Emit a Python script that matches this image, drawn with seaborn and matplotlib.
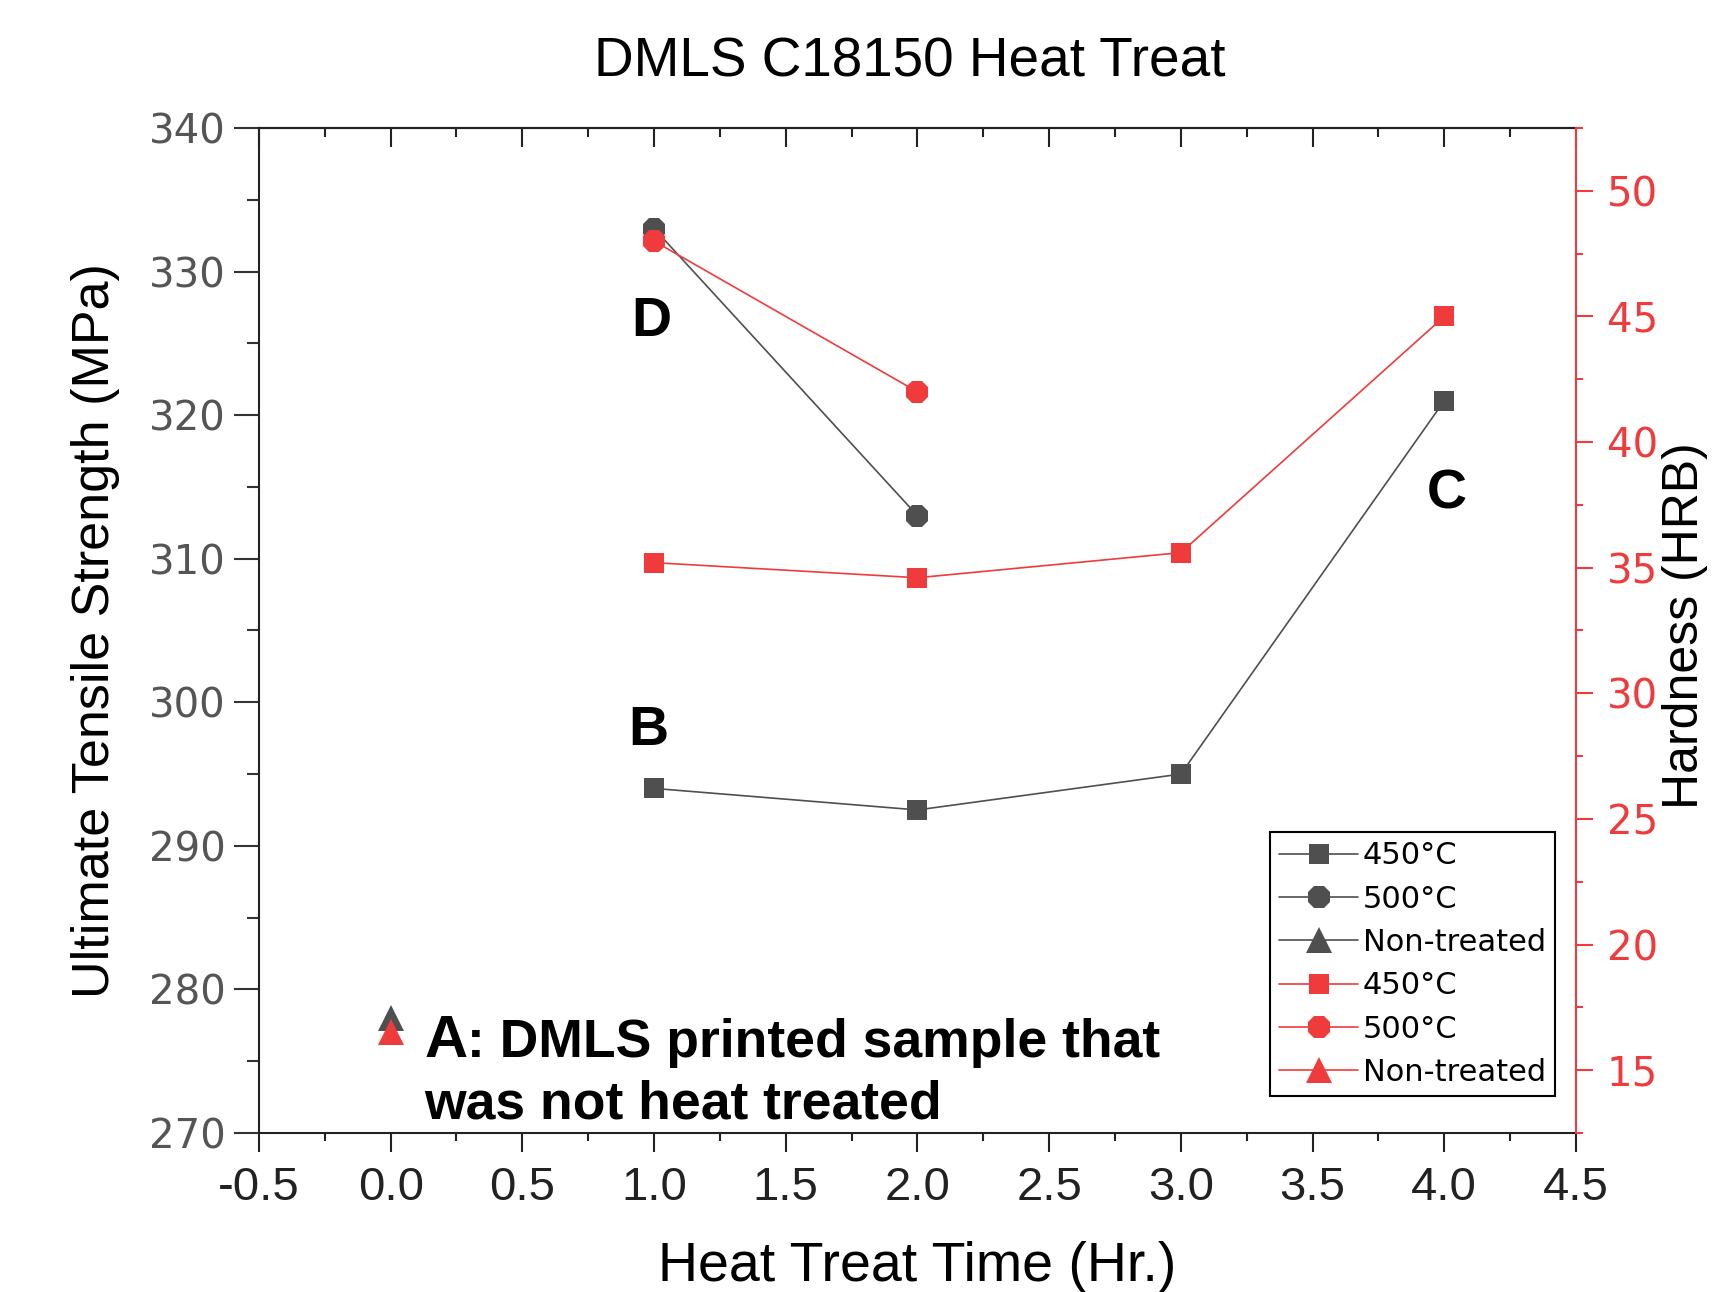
import numpy as np
import pandas as pd
import seaborn as sns
import matplotlib.pyplot as plt
from matplotlib.ticker import MultipleLocator, FormatStrFormatter, NullFormatter

# ultimate tensile strength, left axis (MPa)
uts_450_time = [1.0, 2.0, 3.0, 4.0]
uts_450 = [294.0, 292.5, 295.0, 321.0]
uts_500_time = [1.0, 2.0]
uts_500 = [333.0, 313.0]
uts_raw_time = [0.0]
uts_raw = [278.0]

# hardness, right axis (HRB)
hrb_450_time = [1.0, 2.0, 3.0, 4.0]
hrb_450 = [35.2, 34.6, 35.6, 45.0]
hrb_500_time = [1.0, 2.0]
hrb_500 = [48.0, 42.0]
hrb_raw_time = [0.0]
hrb_raw = [16.5]

series_labels = ['450°C', '500°C', 'Non-treated']
point_labels = ['D', 'B', 'C']
point_x = [0.99, 0.98, 4.01]
point_y = [326.5, 298.0, 314.5]

GREY = '#4f4f4f'
RED = '#ef3b3b'
markers = ['s', '8', '^']
msizes = [14, 17, 19]

sns.set_style('ticks')
plt.rcParams['font.family'] = ['Liberation Sans', 'DejaVu Sans']
plt.rcParams['axes.unicode_minus'] = False
plt.rcParams['text.color'] = 'black'
plt.rcParams['axes.labelcolor'] = 'black'

fig = plt.figure(figsize=(17.16, 12.92), dpi=100)
ax = fig.add_axes([0.1509, 0.1231, 0.7675, 0.7778])
ax2 = ax.twinx()

left_sets = [(uts_450_time, uts_450), (uts_500_time, uts_500), (uts_raw_time, uts_raw)]
right_sets = [(hrb_450_time, hrb_450), (hrb_500_time, hrb_500), (hrb_raw_time, hrb_raw)]

for (t, v), lab, m, ms in zip(left_sets, series_labels, markers, msizes):
    sns.lineplot(x=t, y=v, ax=ax, color=GREY, marker=m, markersize=ms,
                 markeredgewidth=0, linewidth=1.2, label=lab, legend=False,
                 errorbar=None)
for (t, v), lab, m, ms in zip(right_sets, series_labels, markers, msizes):
    sns.lineplot(x=t, y=v, ax=ax2, color=RED, marker=m, markersize=ms,
                 markeredgewidth=0, linewidth=1.2, label=lab, legend=False,
                 errorbar=None)

# axes ranges and ticks
ax.set_xlim(-0.5, 4.5)
ax.set_ylim(270, 340)
ax2.set_ylim(12.5, 52.5)
ax.xaxis.set_major_locator(MultipleLocator(0.5))
ax.xaxis.set_minor_locator(MultipleLocator(0.25))
ax.xaxis.set_major_formatter(FormatStrFormatter('%.1f'))
ax.yaxis.set_major_locator(MultipleLocator(10))
ax.yaxis.set_minor_locator(MultipleLocator(5))
ax2.yaxis.set_major_locator(MultipleLocator(5))
ax2.yaxis.set_minor_locator(MultipleLocator(2.5))

for s in ['left', 'bottom', 'top']:
    ax.spines[s].set_color('#222222')
    ax.spines[s].set_linewidth(1.5)
ax.spines['right'].set_visible(False)
for s in ['left', 'bottom', 'top']:
    ax2.spines[s].set_visible(False)
ax2.spines['right'].set_color(RED)
ax2.spines['right'].set_linewidth(1.5)

ax.tick_params(axis='x', which='major', direction='out', length=14, width=1.5,
               color='#222222', labelsize=34, labelcolor='#222222', pad=10)
ax.tick_params(axis='x', which='minor', direction='out', length=6, width=1.5,
               color='#222222')
ax.tick_params(axis='y', which='major', direction='out', length=18, width=1.5,
               color='#333333', labelsize=29, labelcolor='#555555', pad=6)
ax.tick_params(axis='y', which='minor', direction='out', length=9, width=1.5,
               color='#333333')
ax2.tick_params(axis='y', which='major', direction='out', length=12, width=1.5,
                color=RED, labelsize=29, labelcolor=RED, pad=10)
ax2.tick_params(axis='y', which='minor', direction='out', length=5, width=1.5,
                color=RED)
plt.setp(ax.get_yticklabels(), fontfamily='DejaVu Sans')
plt.setp(ax2.get_yticklabels(), fontfamily='DejaVu Sans')

# inward ticks on the top edge
top = ax.secondary_xaxis('top')
top.xaxis.set_major_locator(MultipleLocator(0.5))
top.xaxis.set_minor_locator(MultipleLocator(0.25))
top.xaxis.set_major_formatter(NullFormatter())
top.tick_params(which='major', direction='in', length=14, width=1.5, color='#222222')
top.tick_params(which='minor', direction='in', length=6.5, width=1.5, color='#222222')
top.spines['top'].set_linewidth(1.5)

ax.set_xlabel('Heat Treat Time (Hr.)', fontsize=40, va='center')
ax.xaxis.set_label_coords(0.5, -0.133)
ax.set_ylabel('Ultimate Tensile Strength (MPa)', fontsize=37.5, va='center')
ax.yaxis.set_label_coords(-0.124, 0.5)
ax2.set_ylabel('Hardness (HRB)', fontsize=36, va='center')
ax2.yaxis.set_label_coords(1.0828, 0.505)

fig.text(0.530, 0.952, 'DMLS C18150 Heat Treat', fontsize=39.5,
         ha='center', va='center')

for lab, px, py in zip(point_labels, point_x, point_y):
    ax.text(px, py, lab, fontsize=40, fontweight='bold', ha='center', va='center')

ax.text(0.1276, 275.3, 'A', fontsize=43, fontweight='bold', va='baseline')
ax.annotate(': DMLS printed sample that', xy=(0.1276, 275.3), xytext=(31, 0),
            textcoords='offset points', fontsize=38.5, fontweight='bold',
            va='baseline')
ax.text(0.1276, 271.0, 'was not heat treated', fontsize=38.5, fontweight='bold',
        va='baseline')

h1, l1 = ax.get_legend_handles_labels()
h2, l2 = ax2.get_legend_handles_labels()
leg = ax2.legend(h1 + h2, l1 + l2, loc='upper left', bbox_to_anchor=(0.740, 0.356),
                 bbox_transform=fig.transFigure, frameon=True, fancybox=False,
                 edgecolor='black', framealpha=1,
                 prop={'family': 'DejaVu Sans', 'size': 22},
                 handlelength=2.6, handletextpad=0.15, borderpad=0.3,
                 labelspacing=0.47, borderaxespad=0)
leg.get_frame().set_linewidth(1.5)

fig.savefig('out.png', dpi=100)
